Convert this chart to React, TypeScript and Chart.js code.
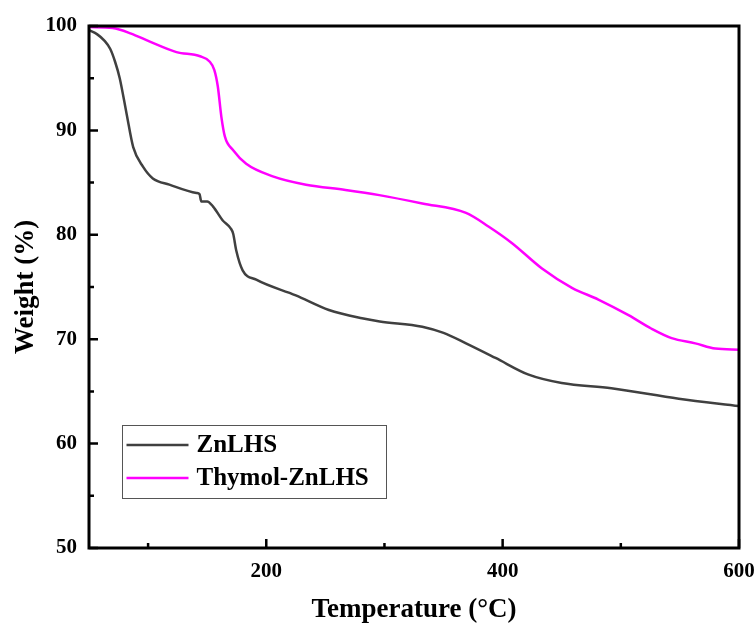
import React, { useEffect, useRef } from "react";
import { Chart, registerables } from "chart.js";

Chart.register(...registerables);

// Thermogravimetric curves: temperature (°C) vs remaining weight (%)
const znlhsTemp = [50, 57, 63, 68, 72, 76, 81.8, 87.4, 95.8, 104, 118, 141, 143.5, 145, 150, 155, 163, 170, 172, 174.6, 180, 191.5, 225, 253, 281, 296, 332, 350, 369, 394, 422, 450, 492, 549, 600];
const znlhsWeight = [99.6, 99.2, 98.6, 97.8, 96.6, 95.0, 91.6, 88.4, 86.5, 85.4, 84.8, 84.0, 83.9, 83.2, 83.2, 82.7, 81.4, 80.6, 80.1, 78.5, 76.6, 75.7, 74.2, 72.8, 72.0, 71.7, 71.2, 70.6, 69.6, 68.2, 66.6, 65.8, 65.3, 64.3, 63.6];

const thymolTemp = [50, 70, 85, 101.5, 124, 144, 152, 156, 159, 162, 165, 172, 183, 205.5, 233.6, 267, 295.6, 332, 369, 388, 408, 433, 459, 481, 506.5, 526, 543, 563, 580, 600];
const thymolWeight = [99.9, 99.8, 99.3, 98.5, 97.5, 97.1, 96.6, 95.8, 94.2, 91.3, 89.4, 88.1, 86.8, 85.6, 84.8, 84.3, 83.8, 83.0, 82.1, 80.8, 79.2, 76.8, 74.9, 73.8, 72.3, 71.0, 70.1, 69.6, 69.1, 69.0];

const seriesLabels = ["ZnLHS", "Thymol-ZnLHS"];
const xTickValues = [100, 200, 300, 400, 500, 600];
const xLabelledTicks = [200, 400, 600];
const yMinorTicks = [55, 65, 75, 85, 95];

const FONT = "'Liberation Serif', 'Times New Roman', serif";

const toPoints = (xs: number[], ys: number[]) => xs.map((x, i) => ({ x, y: ys[i] }));

// Frame, inward tick marks and boxed legend
const framePlugin = {
  id: "frame",
  afterDatasetsDraw(chart: any) {
    const { ctx, chartArea } = chart;
    const { left, top, right, bottom } = chartArea;
    const xs = chart.scales.x;
    const ys = chart.scales.y;
    ctx.save();
    ctx.strokeStyle = "#000";
    ctx.lineWidth = 3;
    ctx.strokeRect(left, top, right - left, bottom - top);

    ctx.lineWidth = 2.5;
    ctx.beginPath();
    xTickValues.forEach((v) => {
      const px = xs.getPixelForValue(v);
      const len = xLabelledTicks.includes(v) ? 9 : 5;
      ctx.moveTo(px, bottom);
      ctx.lineTo(px, bottom - len);
    });
    ys.ticks.forEach((t: any) => {
      const py = ys.getPixelForValue(t.value);
      ctx.moveTo(left, py);
      ctx.lineTo(left + 9, py);
    });
    yMinorTicks.forEach((v) => {
      const py = ys.getPixelForValue(v);
      ctx.moveTo(left, py);
      ctx.lineTo(left + 5, py);
    });
    ctx.stroke();

    // legend box
    const bx = left + 33.5;
    const by = top + 399.5;
    const bw = 264;
    const bh = 73;
    ctx.fillStyle = "#fff";
    ctx.fillRect(bx, by, bw, bh);
    ctx.strokeStyle = "#555";
    ctx.lineWidth = 1;
    ctx.strokeRect(bx, by, bw, bh);
    ctx.font = `bold 25px ${FONT}`;
    ctx.textBaseline = "middle";
    ctx.textAlign = "left";
    chart.data.datasets.forEach((ds: any, i: number) => {
      const cy = by + 19.5 + i * 33;
      ctx.strokeStyle = ds.borderColor;
      ctx.lineWidth = ds.borderWidth;
      ctx.beginPath();
      ctx.moveTo(bx + 4, cy);
      ctx.lineTo(bx + 66, cy);
      ctx.stroke();
      ctx.fillStyle = "#000";
      ctx.fillText(ds.label, bx + 74, cy + 1);
    });
    ctx.restore();
  },
};

export default function App() {
  const canvasRef = useRef<HTMLCanvasElement | null>(null);

  useEffect(() => {
    if (!canvasRef.current) return;
    const chart = new Chart(canvasRef.current, {
      type: "line",
      data: {
        datasets: [
          {
            label: seriesLabels[0],
            data: toPoints(znlhsTemp, znlhsWeight),
            borderColor: "#404040",
            borderWidth: 2.5,
            pointRadius: 0,
            cubicInterpolationMode: "monotone",
          },
          {
            label: seriesLabels[1],
            data: toPoints(thymolTemp, thymolWeight),
            borderColor: "#ff00ff",
            borderWidth: 2.5,
            pointRadius: 0,
            cubicInterpolationMode: "monotone",
          },
        ],
      },
      options: {
        animation: false,
        responsive: false,
        devicePixelRatio: 1,
        layout: { padding: { top: 26, right: 17, left: 0, bottom: 0 } },
        plugins: { legend: { display: false }, tooltip: { enabled: false } },
        scales: {
          x: {
            type: "linear",
            min: 50,
            max: 600,
            afterBuildTicks: (scale: any) => {
              scale.ticks = xTickValues.map((v) => ({ value: v }));
            },
            afterFit: (scale: any) => {
              scale.height = 78;
              scale.paddingLeft = 0;
              scale.paddingRight = 0;
            },
            grid: { display: false, drawTicks: false },
            border: { display: false },
            ticks: {
              padding: 11,
              color: "#000",
              maxRotation: 0,
              autoSkip: false,
              font: { family: FONT, size: 21, weight: "bold" },
              callback: (v: any) => (xLabelledTicks.includes(Number(v)) ? String(v) : ""),
            },
            title: {
              display: true,
              text: "Temperature (°C)",
              color: "#000",
              font: { family: FONT, size: 27, weight: "bold" },
              padding: { top: 0, bottom: 0 },
            },
          },
          y: {
            min: 50,
            max: 100,
            afterFit: (scale: any) => {
              scale.width = 89;
              scale.paddingTop = 0;
              scale.paddingBottom = 0;
            },
            grid: { display: false, drawTicks: false },
            border: { display: false },
            ticks: {
              stepSize: 10,
              padding: 12,
              color: "#000",
              font: { family: FONT, size: 21, weight: "bold" },
            },
            title: {
              display: true,
              text: "Weight (%)",
              color: "#000",
              font: { family: FONT, size: 27, weight: "bold" },
              padding: { top: 10, bottom: 0 },
            },
          },
        },
      },
      plugins: [framePlugin],
    } as any);
    return () => chart.destroy();
  }, []);

  return (
    <div style={{ position: "absolute", left: 0, top: 0, width: 756, height: 626, background: "#fff" }}>
      <canvas ref={canvasRef} width={756} height={626} />
    </div>
  );
}
